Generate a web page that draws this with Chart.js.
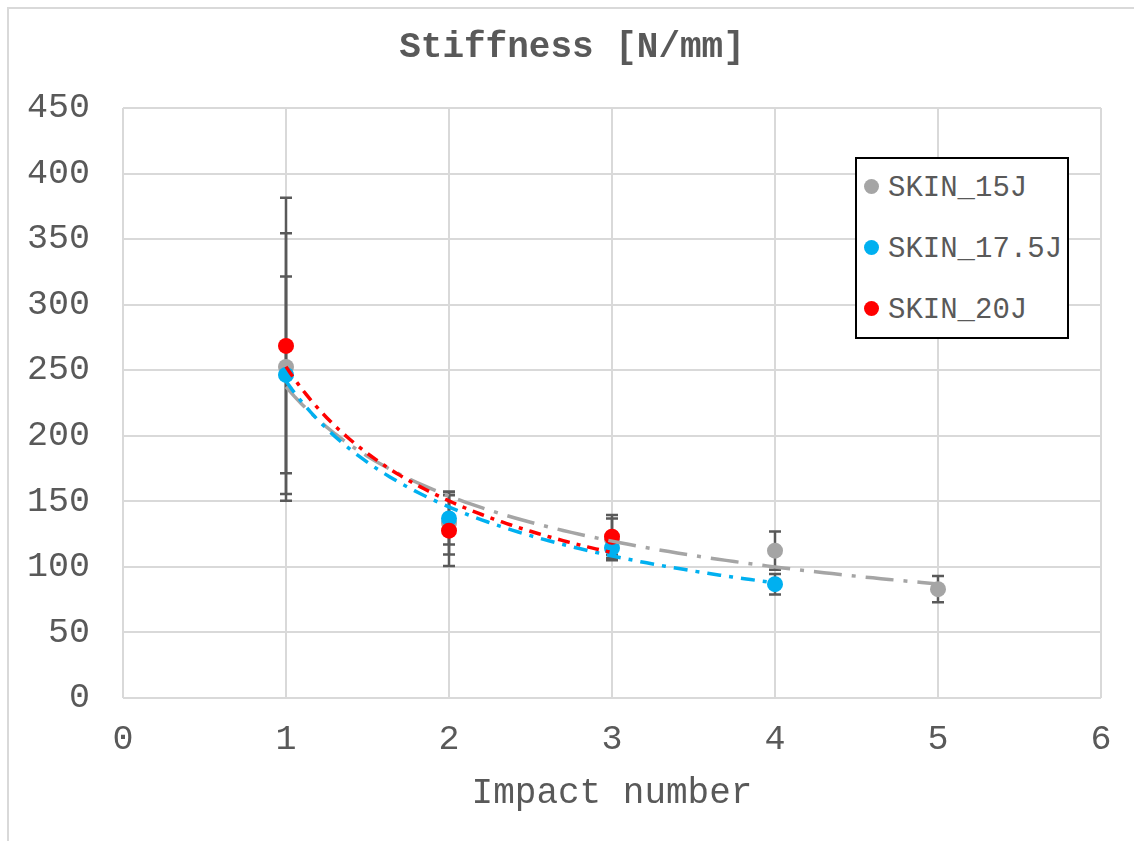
<!DOCTYPE html>
<html>
<head>
<meta charset="utf-8">
<script src="https://cdn.jsdelivr.net/npm/chart.js@4.4.1/dist/chart.umd.min.js"></script>
<style>
  html, body { margin: 0; padding: 0; background: #fff; overflow: hidden; }
  #wrap { position: relative; width: 1134px; height: 841px; }
  #frame { position: absolute; left: 7px; top: 7px; width: 1200px; height: 900px; border: 2px solid #d9d9d9; box-sizing: border-box; }
  #title { position: absolute; left: 372px; width: 400px; top: 26px; text-align: center; line-height: 44px;
    font-family: 'Liberation Mono', 'Courier New', monospace; font-size: 36px; font-weight: bold; color: #595959; }
  #legend { position: absolute; left: 855px; top: 157px; width: 214px; height: 182px; border: 2px solid #000; background: #fff; box-sizing: border-box;
    font-family: 'Liberation Mono', 'Courier New', monospace; font-size: 29px; color: #595959; }
  .item { position: absolute; left: 7px; height: 30px; line-height: 30px; white-space: nowrap; }
  .dot { display: inline-block; width: 15px; height: 15px; border-radius: 50%; margin-right: 9px; vertical-align: middle; position: relative; top: -2px; }
  canvas { position: absolute; left: 0; top: 0; }
</style>
</head>
<body>
<div id="wrap">
  <div id="frame"></div>
  <canvas id="stiffness-chart" width="1134" height="841"></canvas>
  <div id="title">Stiffness [N/mm]</div>
  <div id="legend"></div>
</div>
<script>
// values
var seriesNames = ['SKIN_15J', 'SKIN_17.5J', 'SKIN_20J'];
var seriesColors = ['#a5a5a5', '#00b0f0', '#ff0000'];

var impacts15 = [1, 2, 3, 4, 5];
var stiffness15 = [252.5, 133.5, 121, 112.4, 83];
var error15 = [102, 24, 16, 14.5, 10];

var impacts17 = [1, 2, 3, 4];
var stiffness17 = [246.4, 137, 114.4, 86.8];
var error17 = [75, 20, 5.4, 7.8];

var impacts20 = [1, 2, 3];
var stiffness20 = [268.5, 127.6, 123];
var error20 = [113, 27, 16.5];

var xTicks = [0, 1, 2, 3, 4, 5, 6];
var yTicks = [0, 50, 100, 150, 200, 250, 300, 350, 400, 450];

var FONT = "'Liberation Mono', 'Courier New', monospace";

var series = [
  { x: impacts15, y: stiffness15, err: error15 },
  { x: impacts17, y: stiffness17, err: error17 },
  { x: impacts20, y: stiffness20, err: error20 }
];
var trendDash = [[28, 10, 4, 10], [14, 8, 4, 8], [12, 7, 4, 7]];

// power trendline y = a*x^b (least squares on logs), like the spreadsheet does
function powerFit(xs, ys) {
  var n = xs.length, mx = 0, my = 0;
  for (var i = 0; i < n; i++) { mx += Math.log(xs[i]); my += Math.log(ys[i]); }
  mx /= n; my /= n;
  var sxy = 0, sxx = 0;
  for (var j = 0; j < n; j++) {
    var dx = Math.log(xs[j]) - mx;
    sxy += dx * (Math.log(ys[j]) - my);
    sxx += dx * dx;
  }
  var b = sxy / sxx;
  var a = Math.exp(my - b * mx);
  var pts = [];
  var x0 = xs[0], x1 = xs[n - 1];
  for (var k = 0; k <= 80; k++) {
    var xv = x0 + (x1 - x0) * k / 80;
    pts.push({ x: xv, y: a * Math.pow(xv, b) });
  }
  return pts;
}

var datasets = [];
series.forEach(function (s, i) {
  datasets.push({
    label: seriesNames[i] + ' trend',
    data: powerFit(s.x, s.y),
    showLine: true,
    borderColor: seriesColors[i],
    borderWidth: 3.5,
    borderDash: trendDash[i],
    pointRadius: 0,
    order: 2 - i
  });
});
series.forEach(function (s, i) {
  datasets.push({
    label: seriesNames[i],
    data: s.x.map(function (v, k) { return { x: v, y: s.y[k] }; }),
    backgroundColor: seriesColors[i],
    borderWidth: 0,
    pointRadius: 8,
    pointHoverRadius: 8,
    order: 10 - i
  });
});

var errorBars = {
  id: 'errorBars',
  beforeDatasetsDraw: function (chart) {
    var ctx = chart.ctx, xs = chart.scales.x, ys = chart.scales.y;
    ctx.save();
    ctx.strokeStyle = '#595959';
    ctx.lineWidth = 2.5;
    series.forEach(function (s) {
      s.x.forEach(function (v, k) {
        var px = xs.getPixelForValue(v);
        var top = ys.getPixelForValue(s.y[k] + s.err[k]);
        var bot = ys.getPixelForValue(s.y[k] - s.err[k]);
        ctx.beginPath();
        ctx.moveTo(px, top); ctx.lineTo(px, bot);
        ctx.moveTo(px - 6, top); ctx.lineTo(px + 6, top);
        ctx.moveTo(px - 6, bot); ctx.lineTo(px + 6, bot);
        ctx.stroke();
      });
    });
    ctx.restore();
  }
};

var ctx = document.getElementById('stiffness-chart').getContext('2d');
var chart = new Chart(ctx, {
  type: 'scatter',
  data: { datasets: datasets },
  plugins: [errorBars],
  options: {
    responsive: false,
    animation: false,
    devicePixelRatio: 1,
    layout: { padding: { left: 0, right: 33, top: 108, bottom: 0 } },
    plugins: {
      legend: { display: false },
      tooltip: { enabled: false },
      title: { display: false }
    },
    scales: {
      x: {
        type: 'linear',
        min: xTicks[0],
        max: xTicks[xTicks.length - 1],
        afterBuildTicks: function (s) { s.ticks = xTicks.map(function (v) { return { value: v }; }); },
        afterFit: function (s) { s.height = 143; },
        grid: { color: '#d9d9d9', lineWidth: 2, drawTicks: false },
        border: { display: false },
        ticks: { color: '#595959', font: { family: FONT, size: 35 }, padding: 21, maxRotation: 0 },
        title: {
          display: true,
          text: 'Impact number',
          color: '#595959',
          font: { family: FONT, size: 36 },
          padding: { top: 0, bottom: 26 }
        }
      },
      y: {
        type: 'linear',
        min: yTicks[0],
        max: yTicks[yTicks.length - 1],
        afterBuildTicks: function (s) { s.ticks = yTicks.map(function (v) { return { value: v }; }); },
        afterFit: function (s) { s.width = 123; },
        grid: { color: '#d9d9d9', lineWidth: 2, drawTicks: false },
        border: { display: false },
        ticks: { color: '#595959', font: { family: FONT, size: 35 }, padding: 33 }
      }
    }
  }
});

// html legend built from the series names
var legend = document.getElementById('legend');
var legendTops = [15, 76, 137];
seriesNames.forEach(function (name, i) {
  var item = document.createElement('div');
  item.className = 'item';
  item.style.top = legendTops[i] + 'px';
  item.innerHTML = '<span class="dot" style="background:' + seriesColors[i] + '"></span>' + name;
  legend.appendChild(item);
});
</script>
</body>
</html>
